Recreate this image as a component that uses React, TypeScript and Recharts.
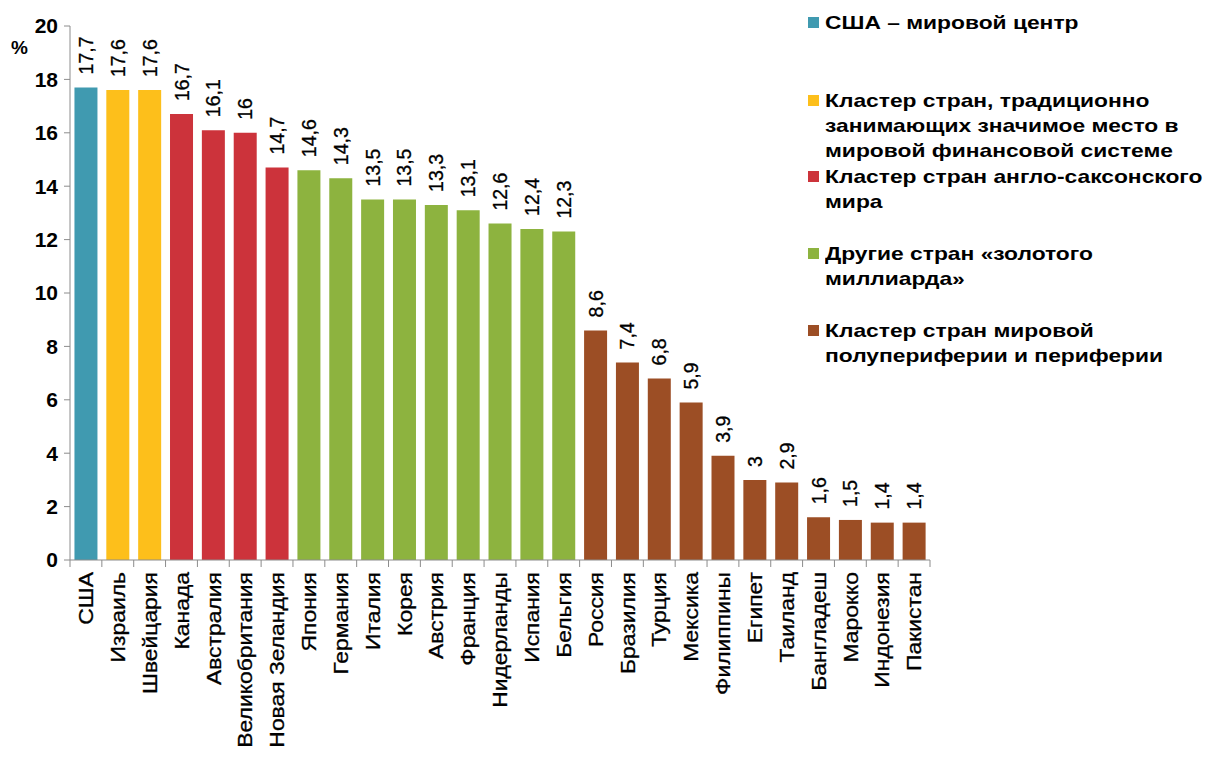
import * as React from "react";
import { BarChart, Bar, XAxis, YAxis, Cell, LabelList } from "recharts";

const countries = [
  "США", "Израиль", "Швейцария", "Канада", "Австралия", "Великобритания",
  "Новая Зеландия", "Япония", "Германия", "Италия", "Корея", "Австрия",
  "Франция", "Нидерланды", "Испания", "Бельгия", "Россия", "Бразилия",
  "Турция", "Мексика", "Филиппины", "Египет", "Таиланд", "Бангладеш",
  "Марокко", "Индонезия", "Пакистан",
];

const values = [
  17.7, 17.6, 17.6, 16.7, 16.1, 16, 14.7, 14.6, 14.3, 13.5, 13.5, 13.3,
  13.1, 12.6, 12.4, 12.3, 8.6, 7.4, 6.8, 5.9, 3.9, 3, 2.9, 1.6, 1.5, 1.4, 1.4,
];

// cluster index for each country
const clusters = [
  0, 1, 1, 2, 2, 2, 2, 3, 3, 3, 3, 3, 3, 3, 3, 3, 4, 4, 4, 4, 4, 4, 4, 4, 4, 4, 4,
];

const clusterColors = ["#409AB0", "#FDBF1B", "#CC333B", "#8DB33F", "#9C4E25"];

const legendItems = [
  { lines: ["США – мировой центр"], top: 10 },
  {
    lines: [
      "Кластер стран, традиционно",
      "занимающих значимое место в",
      "мировой финансовой системе",
    ],
    top: 88,
  },
  { lines: ["Кластер стран англо-саксонского", "мира"], top: 164 },
  { lines: ["Другие стран «золотого", "миллиарда»"], top: 241 },
  { lines: ["Кластер стран мировой", "полупериферии и периферии"], top: 318 },
];

const yTicks = [0, 2, 4, 6, 8, 10, 12, 14, 16, 18, 20];

const W = 1207;
const H = 762;
const MARGIN = { top: 26, right: 277, left: 0, bottom: 0 };
const Y_AXIS_W = 70;
const PLOT_W = W - MARGIN.right - MARGIN.left - Y_AXIS_W;
const FONT = "'Liberation Sans', Arial, sans-serif";
const AXIS_GRAY = "#8c8c8c";

const fmt = (v: number) => String(v).replace(".", ",");

function CategoryTick(props: any) {
  const { x, y, payload, index } = props;
  const step = PLOT_W / countries.length;
  return (
    <g>
      <line x1={x - step / 2} x2={x - step / 2} y1={y} y2={y + 7} stroke={AXIS_GRAY} />
      {index === countries.length - 1 && (
        <line x1={x + step / 2} x2={x + step / 2} y1={y} y2={y + 7} stroke={AXIS_GRAY} />
      )}
      <text
        transform={`translate(${x},${y + 12}) rotate(-90) scale(1.09,1)`}
        textAnchor="end"
        dominantBaseline="central"
        fontSize={21}
        fontFamily={FONT}
        fill="#000"
        stroke="#000"
        strokeWidth={0.3}
      >
        {payload.value}
      </text>
    </g>
  );
}

function ValueLabel(props: any) {
  const { x, y, width, value } = props;
  const cx = x + width / 2;
  const ty = y - 13;
  return (
    <text
      transform={`translate(${cx},${ty}) rotate(-90)`}
      textAnchor="start"
      dominantBaseline="central"
      fontSize={19.5}
      fontFamily={FONT}
      fill="#000"
      stroke="#000"
      strokeWidth={0.3}
    >
      {fmt(value)}
    </text>
  );
}

export default function App() {
  const data = countries.map((name, i) => ({ name, value: values[i] }));

  return (
    <div
      style={{
        position: "absolute",
        left: 0,
        top: 0,
        width: W,
        height: H,
        background: "#fff",
        fontFamily: FONT,
      }}
    >
      <BarChart width={W} height={H} data={data} margin={MARGIN} barCategoryGap="14%">
        <XAxis
          dataKey="name"
          interval={0}
          height={H - 560}
          tickLine={false}
          tickSize={0}
          tickMargin={0}
          stroke={AXIS_GRAY}
          tick={<CategoryTick />}
        />
        <YAxis
          width={Y_AXIS_W}
          domain={[0, 20]}
          ticks={yTicks}
          interval={0}
          tickSize={6}
          tickMargin={6}
          stroke={AXIS_GRAY}
          tick={{ fill: "#000", fontSize: 21, fontWeight: "bold", fontFamily: FONT }}
        />
        <Bar dataKey="value" isAnimationActive={false}>
          {data.map((d, i) => (
            <Cell key={d.name} fill={clusterColors[clusters[i]]} />
          ))}
          <LabelList dataKey="value" content={<ValueLabel />} />
        </Bar>
      </BarChart>

      <div
        style={{
          position: "absolute",
          left: 11,
          top: 37,
          fontSize: 19,
          fontWeight: "bold",
          color: "#000",
        }}
      >
        %
      </div>

      {legendItems.map((item, i) => (
        <div key={i} style={{ position: "absolute", left: 808, top: item.top }}>
          <div
            style={{
              position: "absolute",
              left: 0,
              top: 7,
              width: 11,
              height: 11,
              background: clusterColors[i],
            }}
          />
          <div
            style={{
              position: "absolute",
              left: 17,
              top: 0,
              fontSize: 19,
              lineHeight: "25px",
              fontWeight: "bold",
              color: "#000",
              whiteSpace: "nowrap",
              transform: "scaleX(1.2)",
              transformOrigin: "left top",
            }}
          >
            {item.lines.map((l) => (
              <div key={l}>{l}</div>
            ))}
          </div>
        </div>
      ))}
    </div>
  );
}
